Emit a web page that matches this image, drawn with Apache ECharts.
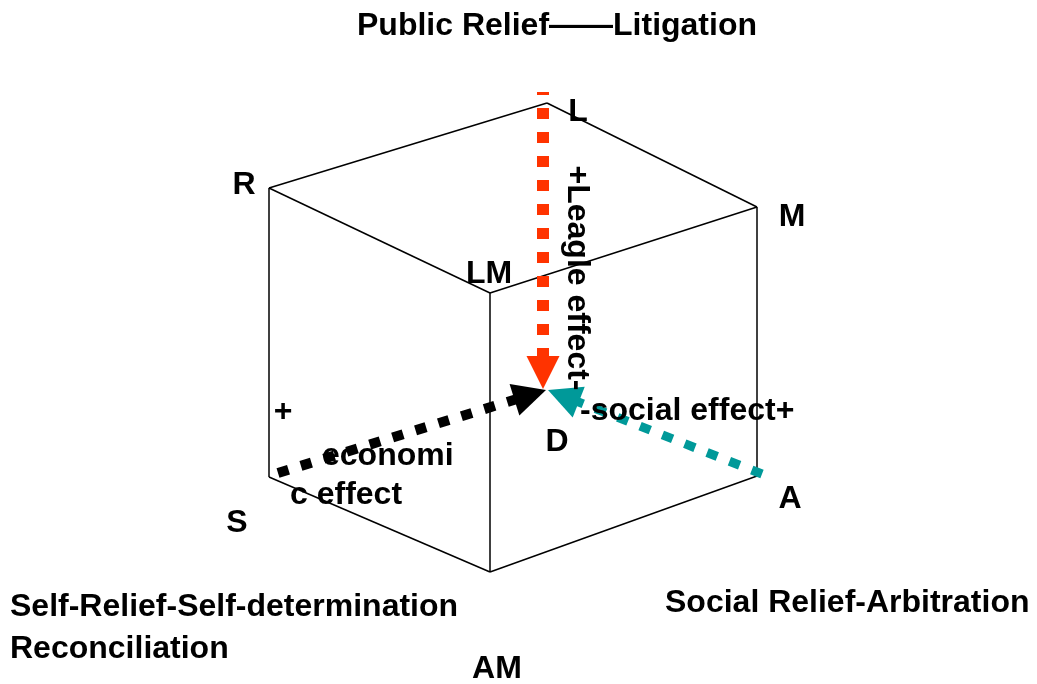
<!DOCTYPE html>
<html>
<head>
<meta charset="utf-8">
<script src="https://cdn.jsdelivr.net/npm/echarts@6/dist/echarts.min.js"></script>
<style>html,body{margin:0;padding:0;background:#fff}#c{width:1037px;height:684px}</style>
</head>
<body>
<div id="c"></div>
<script>
// Cube vertices (diagram units)
const vertexNames = ['R', 'T', 'M', 'LM', 'S', 'AM', 'A'];
const vertexX = [269, 547, 757, 490, 269, 490, 757];
const vertexY = [188, 103, 207, 293, 477, 572, 476];
const cubeEdges = [['R','T'],['T','M'],['M','LM'],['LM','R'],['R','S'],['LM','AM'],['M','A'],['S','AM'],['AM','A']];

// Effect arrows: tail point and tip point
const arrowNames = ['legal', 'economic', 'social'];
const arrowFrom = [[543, 92], [278, 473], [762, 474]];
const arrowTo = [[543, 389], [546, 390], [548, 390]];
const arrowColors = ['#ff3300', '#000000', '#009999'];
const arrowWidths = [12, 10, 9];
const arrowHeadSize = 33;

// Text labels
const labelTexts = ['Public Relief——Litigation', 'L', 'R', 'M', 'LM', 'D', 'S', 'A', 'AM', '+',
  '-social effect+', 'economi', 'c effect', 'Self-Relief-Self-determination', 'Reconciliation',
  'Social Relief-Arbitration'];
const labelX = [557, 578, 244, 792, 489, 557, 237, 790, 497, 283, 580, 322, 290, 10, 10, 665];
const labelY = [26, 112, 185, 217, 274, 442, 523, 499, 669, 412, 411, 456, 495, 607, 649, 603];
const labelAlign = ['center','center','center','center','center','center','center','center','center','center',
  'left','left','left','left','left','left'];
const rotatedText = '+Leagle effect-';
const rotatedPos = [577, 278];

const vIdx = n => vertexNames.indexOf(n);
const edgeData = cubeEdges.map(([a, b]) => ({
  coords: [[vertexX[vIdx(a)], vertexY[vIdx(a)]], [vertexX[vIdx(b)], vertexY[vIdx(b)]]]
}));

// ECharts centres the end symbol on the line end, so end the line half a head before the tip
const arrowSeries = arrowNames.map((n, i) => {
  const [x0, y0] = arrowFrom[i], [x1, y1] = arrowTo[i];
  const len = Math.hypot(x1 - x0, y1 - y0);
  const ux = (x1 - x0) / len, uy = (y1 - y0) / len;
  const end = [x1 - ux * arrowHeadSize / 2, y1 - uy * arrowHeadSize / 2];
  return {
    name: n,
    type: 'lines',
    coordinateSystem: 'cartesian2d',
    z: 3,
    symbol: ['none', 'triangle'],
    symbolSize: arrowHeadSize,
    lineStyle: { color: arrowColors[i], width: arrowWidths[i], type: [11, 13], dashOffset: i === 0 ? 8 : 0, opacity: 1, cap: 'butt' },
    data: [{ coords: [arrowFrom[i], end] }],
    silent: true
  };
});

const textData = labelTexts.map((t, i) => ({
  name: t,
  value: [labelX[i], labelY[i]],
  label: { align: labelAlign[i] }
}));
textData.push({ name: rotatedText, value: rotatedPos, label: { rotate: -90 } });

const chart = echarts.init(document.getElementById('c'));
chart.setOption({
  animation: false,
  backgroundColor: '#ffffff',
  grid: { left: 0, right: 0, top: 0, bottom: 0 },
  xAxis: { type: 'value', min: 0, max: 1037, show: false },
  yAxis: { type: 'value', min: 0, max: 684, inverse: true, show: false },
  series: [
    {
      type: 'lines',
      coordinateSystem: 'cartesian2d',
      z: 1,
      symbol: 'none',
      lineStyle: { color: '#000', width: 1.5, opacity: 1 },
      data: edgeData,
      silent: true
    },
    ...arrowSeries,
    {
      type: 'scatter',
      z: 5,
      symbolSize: 0,
      itemStyle: { color: '#000', opacity: 1 },
      data: textData,
      silent: true,
      label: {
        show: true,
        position: 'inside',
        formatter: p => p.name,
        color: '#000000',
        opacity: 1,
        textBorderWidth: 0,
        textBorderColor: 'transparent',
        fontFamily: 'Liberation Sans, Arial, sans-serif',
        fontWeight: 'bold',
        fontSize: 32,
        verticalAlign: 'middle'
      }
    }
  ]
});
</script>
</body>
</html>
